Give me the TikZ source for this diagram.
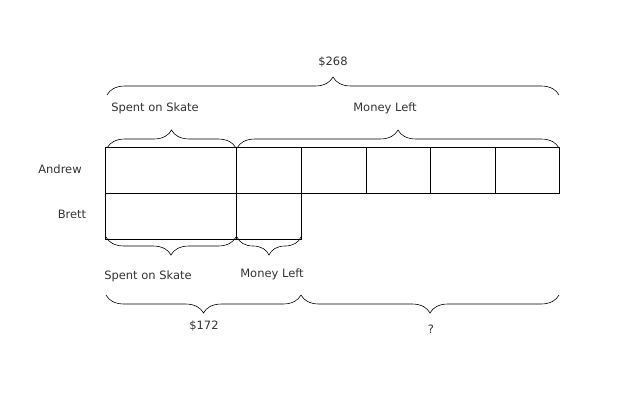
\documentclass[tikz,border=0pt]{standalone}
\usepackage{fontspec}
\setmainfont{DejaVu Sans}
\usetikzlibrary{decorations.pathreplacing}
\begin{document}
\begin{tikzpicture}[x=1pt,y=-1pt,
  cell/.style={draw,line width=0.8pt,minimum height=46pt,inner sep=0pt,outer sep=0pt,anchor=north west},
  brc/.style={decorate,decoration={brace,amplitude=#1},line width=0.6pt},
  lbl/.style={font=\fontsize{11.5}{13}\selectfont,inner sep=0pt,text=black!80}]
\useasboundingbox (0,0) rectangle (640,400);
% Andrew row
\node[cell,minimum width=131pt] (a0) at (105,147) {};
\node[cell,minimum width=65pt] (a1) at (236,147) {};
\node[cell,minimum width=65pt] (a2) at (301,147) {};
\node[cell,minimum width=64pt] (a3) at (366,147) {};
\node[cell,minimum width=65pt] (a4) at (430,147) {};
\node[cell,minimum width=64pt] (a5) at (495,147) {};
% Brett row
\node[cell,minimum width=131pt] (b0) at (105,193) {};
\node[cell,minimum width=65pt] (b1) at (236,193) {};
% row labels
\node[lbl] (andrew) at (60,169) {Andrew};
\node[lbl] (brett) at (72,214) {Brett};
% top braces
\coordinate (t1) at (107,95);
\coordinate (t2) at (559,95);
\draw[brc=18pt] (t1) -- (t2);
\node[lbl] (tot) at (333,62) {\$268};
\draw[brc=18pt] ([xshift=2pt,yshift=-1pt]a0.north west) -- ([yshift=-1pt]a0.north east);
\draw[brc=18pt] ([xshift=1pt,yshift=-1pt]a1.north west) -- ([yshift=-1pt]a5.north east);
\node[lbl] (ts) at (155,108) {Spent on Skate};
\node[lbl] (tm) at (385,108) {Money Left};
% bottom braces
\draw[brc=18pt] ([yshift=2pt]b0.south east) -- ([xshift=1pt,yshift=2pt]b0.south west);
\draw[brc=18pt] ([yshift=2pt]b1.south east) -- ([xshift=1pt,yshift=2pt]b1.south west);
\node[lbl] (bs) at (148,276) {Spent on Skate};
\node[lbl] (bm) at (272,274) {Money Left};
\coordinate (u1) at (106,295);
\coordinate (u2) at (301,295);
\coordinate (u3) at (559,295);
\draw[brc=18pt] (u2) -- (u1);
\draw[brc=18pt] (u3) -- (u2);
\node[lbl] (v172) at (204,326) {\$172};
\node[lbl] (q) at (431,329) {?};
\end{tikzpicture}
\end{document}
